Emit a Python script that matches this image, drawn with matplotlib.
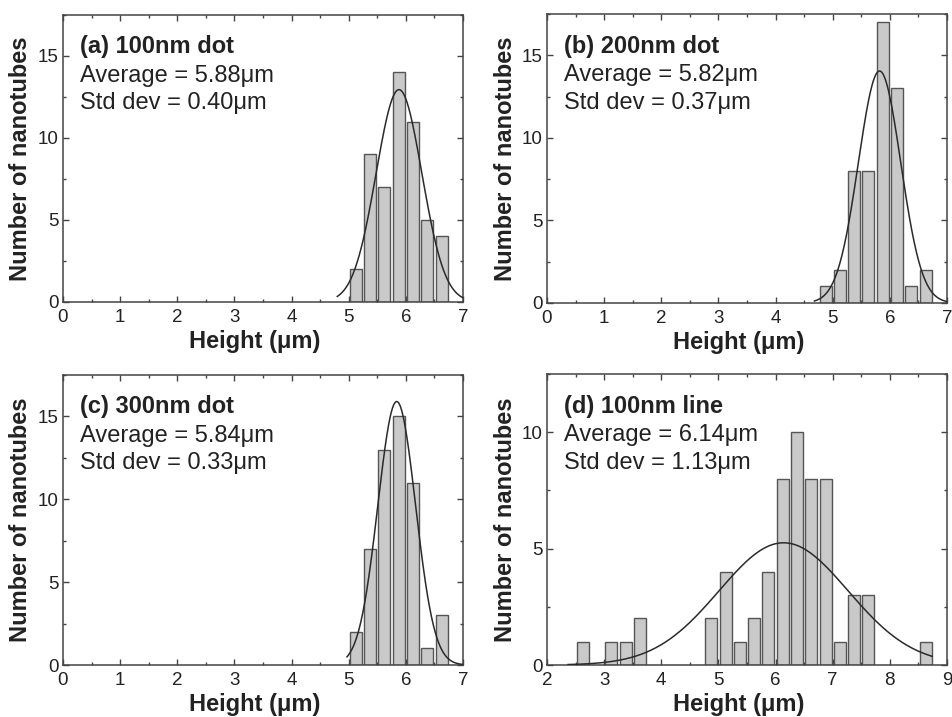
import numpy as np
import matplotlib
matplotlib.use('Agg')
import matplotlib.pyplot as plt
import matplotlib.ticker as mticker

plt.rcParams['font.family'] = ['Liberation Sans', 'DejaVu Sans']

# bin centres (um) and counts
centers_a = [5.125, 5.375, 5.625, 5.875, 6.125, 6.375, 6.625]
counts_a = [2, 9, 7, 14, 11, 5, 4]

centers_b = [4.875, 5.125, 5.375, 5.625, 5.875, 6.125, 6.375, 6.625]
counts_b = [1, 2, 8, 8, 17, 13, 1, 2]

centers_c = [5.125, 5.375, 5.625, 5.875, 6.125, 6.375, 6.625]
counts_c = [2, 7, 13, 15, 11, 1, 3]

centers_d = [2.625, 3.125, 3.375, 3.625, 4.875, 5.125, 5.375, 5.625, 5.875,
             6.125, 6.375, 6.625, 6.875, 7.125, 7.375, 7.625, 8.625]
counts_d = [1, 1, 1, 2, 2, 4, 1, 2, 4, 8, 10, 8, 8, 1, 3, 3, 1]

titles = ['(a) 100nm dot', '(b) 200nm dot', '(c) 300nm dot', '(d) 100nm line']
means = [5.88, 5.82, 5.84, 6.14]
stds = [0.40, 0.37, 0.33, 1.13]
peaks = [12.95, 14.05, 15.9, 5.25]          # fitted gaussian heights
fit_ranges = [(4.8, 7.0), (4.68, 7.0), (4.97, 7.0), (2.37, 8.74)]
xlims = [(0, 7), (0, 7), (0, 7), (2, 9)]
ylims = [(0, 17.5), (0, 17.5), (0, 17.5), (0, 12.5)]

W, H = 953, 717
# axes boxes in pixels: left, top, right, bottom
boxes = [(63, 15, 463, 302), (547, 14, 947, 303),
         (63, 375, 463, 665), (547, 374, 947, 665)]

centers = [centers_a, centers_b, centers_c, centers_d]
counts = [counts_a, counts_b, counts_c, counts_d]

fig = plt.figure(figsize=(W / 100, H / 100), dpi=100)
dark = '#222222'
spine_c = '#444444'

for i in range(4):
    l, t, r, b = boxes[i]
    ax = fig.add_axes([l / W, 1 - b / H, (r - l) / W, (b - t) / H])
    ax.bar(centers[i], counts[i], width=0.21, color='#c9c9c9',
           edgecolor='#555555', linewidth=1.0, zorder=2)
    xs = np.linspace(fit_ranges[i][0], fit_ranges[i][1], 300)
    ys = peaks[i] * np.exp(-0.5 * ((xs - means[i]) / stds[i]) ** 2)
    ax.plot(xs, ys, color='#2a2a2a', lw=1.1, zorder=3)

    ax.set_xlim(*xlims[i])
    ax.set_ylim(*ylims[i])
    ax.xaxis.set_major_locator(mticker.MultipleLocator(1))
    ax.xaxis.set_minor_locator(mticker.MultipleLocator(0.5))
    ax.yaxis.set_major_locator(mticker.MultipleLocator(5))
    ax.yaxis.set_minor_locator(mticker.MultipleLocator(2.5))
    ax.tick_params(which='both', direction='in', top=True, right=True,
                   color=spine_c, width=1.0)
    ax.tick_params(which='major', length=4, labelsize=13.5,
                   labelcolor=dark)
    ax.tick_params(which='minor', length=2.5)
    ax.tick_params(axis='x', pad=5)
    ax.tick_params(axis='y', pad=3)
    for s in ax.spines.values():
        s.set_color(spine_c)
        s.set_linewidth(1.1)

    hpx = b - t
    ax.set_xlabel('Height (μm)', fontsize=17, fontweight='bold', color=dark)
    ax.xaxis.label.set_va('baseline')
    ax.xaxis.set_label_coords(0.478, -46 / hpx)
    ax.set_ylabel('Number of nanotubes', fontsize=17, fontweight='bold',
                  color=dark)
    ax.yaxis.label.set_va('center')
    ax.yaxis.set_label_coords(-42 / 400, 0.5)

    ax.annotate(titles[i], xy=(0, 1), xycoords='axes fraction',
                xytext=(17, -38.5), textcoords='offset pixels',
                fontsize=17, fontweight='bold', color=dark,
                ha='left', va='baseline')
    ax.annotate('Average = %.2fμm' % means[i], xy=(0, 1),
                xycoords='axes fraction', xytext=(17, -67),
                textcoords='offset pixels', fontsize=17, color=dark,
                ha='left', va='baseline')
    ax.annotate('Std dev = %.2fμm' % stds[i], xy=(0, 1),
                xycoords='axes fraction', xytext=(17, -94.5),
                textcoords='offset pixels', fontsize=17, color=dark,
                ha='left', va='baseline')

fig.savefig('out.png', dpi=100)
